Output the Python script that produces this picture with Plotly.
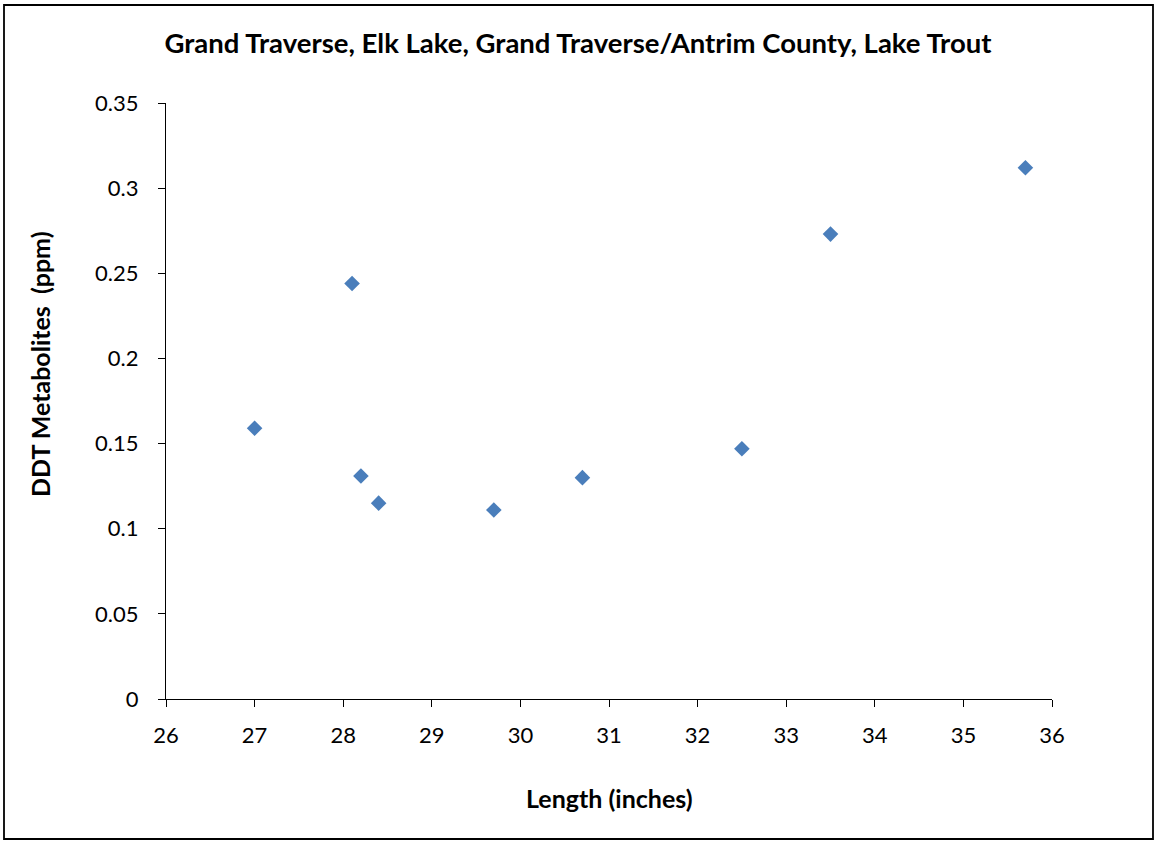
import plotly.graph_objects as go

length_in = [27.0, 28.1, 28.2, 28.4, 29.7, 30.7, 32.5, 33.5, 35.7]
ddt_ppm = [0.159, 0.244, 0.131, 0.115, 0.111, 0.130, 0.147, 0.273, 0.312]

W, H = 1156, 842
ml, mr, mt, mb = 166, 104, 103, 143
pw, ph = W - ml - mr, H - mt - mb

FONT = "Lato"

fig = go.Figure()
fig.add_trace(go.Scatter(
    x=length_in, y=ddt_ppm, mode="markers",
    marker=dict(symbol="diamond", size=12, color="#4a7ebb",
                line=dict(width=0)),
    showlegend=False,
))

axis_common = dict(
    showgrid=False, zeroline=False, showline=True, linecolor="black",
    linewidth=1.3, ticks="outside", ticklen=7, tickwidth=1.3, tickcolor="black",
    tickfont=dict(family=FONT, size=22, color="black"),
)

fig.update_xaxes(range=[26, 36], dtick=1, tick0=26, ticklabelstandoff=9,
                 **axis_common)
fig.update_yaxes(range=[0, 0.35], dtick=0.05, tick0=0, ticklabelstandoff=15,
                 **axis_common)

def px_to_paper_x(px):
    return (px - ml) / pw

def px_to_paper_y(py):
    return (H - mb - py) / ph

fig.add_shape(type="rect", xref="paper", yref="paper",
              x0=px_to_paper_x(4), x1=px_to_paper_x(1153),
              y0=px_to_paper_y(839), y1=px_to_paper_y(5),
              line=dict(color="black", width=1.8), fillcolor="rgba(0,0,0,0)")

fig.add_annotation(text="<b>Length (inches)</b>", xref="paper", yref="paper",
                   x=0.5, y=px_to_paper_y(798), showarrow=False,
                   font=dict(family=FONT, size=25, color="black"),
                   xanchor="center", yanchor="middle")
fig.add_annotation(text="<b>DDT Metabolites  (ppm)</b>", xref="paper", yref="paper",
                   x=px_to_paper_x(40), y=px_to_paper_y(364), showarrow=False,
                   textangle=-90,
                   font=dict(family=FONT, size=25, color="black"),
                   xanchor="center", yanchor="middle")

fig.update_layout(
    width=W, height=H,
    margin=dict(l=ml, r=mr, t=mt, b=mb),
    paper_bgcolor="white", plot_bgcolor="white",
    title=dict(text="<b>Grand Traverse, Elk Lake, Grand Traverse/Antrim County, Lake Trout</b>",
               x=0.5, xanchor="center", xref="container",
               y=1 - 43 / H, yanchor="middle", yref="container",
               font=dict(family=FONT, size=27.5, color="black")),
)

fig.write_html(
    "out.html",
    config={"displayModeBar": False},
    post_script="document.body.style.margin='0';document.body.style.overflow='hidden';",
)
